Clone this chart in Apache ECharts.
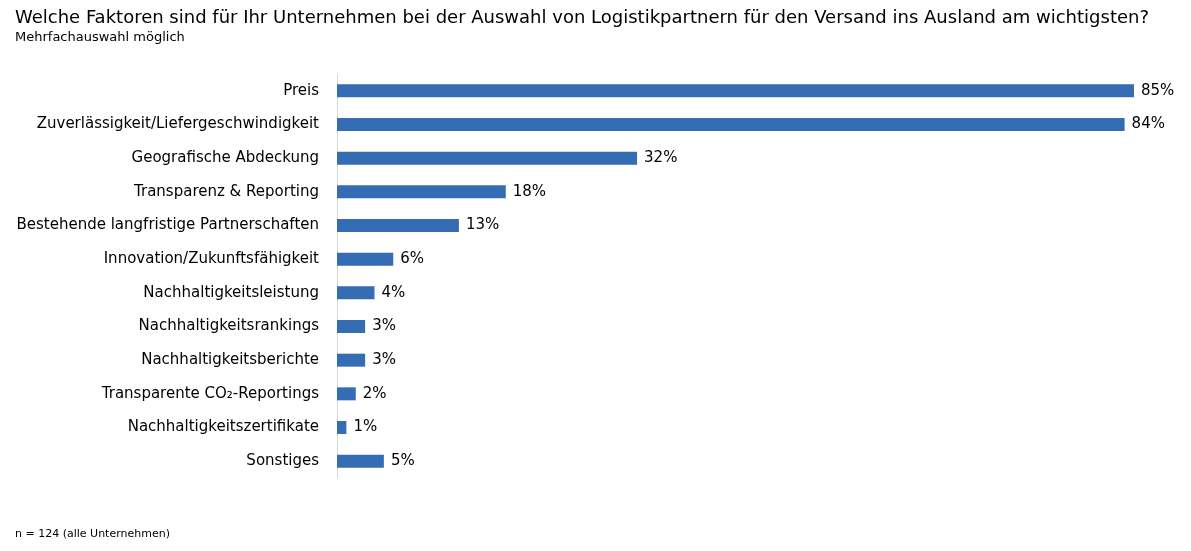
<!DOCTYPE html>
<html><head><meta charset="utf-8">
<script src="https://cdn.jsdelivr.net/npm/echarts@6/dist/echarts.min.js"></script>
<style>body{margin:0;background:#fff}#c{width:1191px;height:551px}</style>
</head><body><div id="c"></div>
<script>
const categories = ["Preis","Zuverlässigkeit/Liefergeschwindigkeit","Geografische Abdeckung","Transparenz & Reporting","Bestehende langfristige Partnerschaften","Innovation/Zukunftsfähigkeit","Nachhaltigkeitsleistung","Nachhaltigkeitsrankings","Nachhaltigkeitsberichte","Transparente CO₂-Reportings","Nachhaltigkeitszertifikate","Sonstiges"];
const values = [85,84,32,18,13,6,4,3,3,2,1,5];
const font = "DejaVu Sans";
const chart = echarts.init(document.getElementById('c'));
chart.setOption({
  animation:false,
  textStyle:{fontFamily:font},
  title:[{text:"Welche Faktoren sind für Ihr Unternehmen bei der Auswahl von Logistikpartnern für den Versand ins Ausland am wichtigsten?",left:10,top:4,textStyle:{fontSize:18,fontWeight:'normal',color:'#000',fontFamily:font}},
    {text:"Mehrfachauswahl möglich",left:10,top:26,textStyle:{fontSize:13,fontWeight:'normal',color:'#000',fontFamily:font}},
    {text:"n = 124 (alle Unternehmen)",left:10,top:524,textStyle:{fontSize:11,fontWeight:'normal',color:'#000',fontFamily:font}}],
  grid:{left:337,right:57,top:74,bottom:73},
  xAxis:{type:'value',min:0,max:85,show:false},
  yAxis:{type:'category',data:categories,inverse:true,axisTick:{show:false},
    axisLine:{lineStyle:{color:'#d9d9d9'}},axisLabel:{fontSize:15,color:'#000',margin:18,fontFamily:font}},
  series:[{type:'bar',data:values,barWidth:13,itemStyle:{color:'#356db5'},
    label:{show:true,position:'right',formatter:'{c}%',fontSize:15,color:'#000',distance:7,fontFamily:font}}]
});
</script></body></html>
